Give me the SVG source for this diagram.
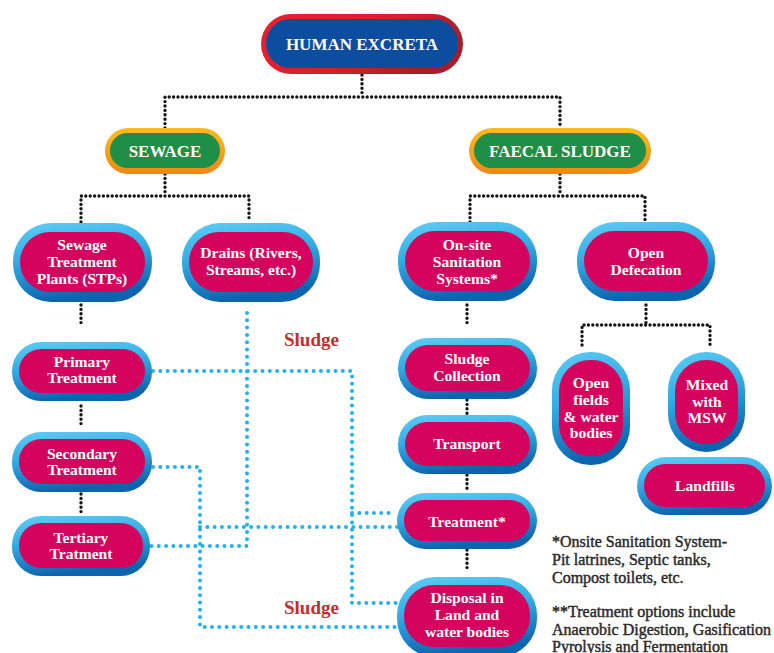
<svg xmlns="http://www.w3.org/2000/svg" width="774" height="653" viewBox="0 0 774 653">
  <defs>
    <linearGradient id="ringBlue" x1="0" y1="0" x2="0.25" y2="1">
      <stop offset="0" stop-color="#5fcdf4"/>
      <stop offset="0.45" stop-color="#35aee6"/>
      <stop offset="1" stop-color="#0c63ae"/>
    </linearGradient>
    <linearGradient id="ringOrange" x1="0" y1="0" x2="0" y2="1">
      <stop offset="0" stop-color="#fbbd1e"/>
      <stop offset="1" stop-color="#ef8716"/>
    </linearGradient>
    <linearGradient id="ringRed" x1="0" y1="0" x2="1" y2="0.4">
      <stop offset="0" stop-color="#e8202f"/>
      <stop offset="0.6" stop-color="#d91f2c"/>
      <stop offset="1" stop-color="#a61d27"/>
    </linearGradient>
    <style>
      .inner { fill: #d4045e; }
      .lbl { font-family: "Liberation Serif", "Times New Roman", serif; font-weight: bold; font-size: 15.6px; fill: #ffffff; text-anchor: middle; }
      .head { font-family: "Liberation Serif", "Times New Roman", serif; font-weight: bold; font-size: 17px; fill: #ffffff; text-anchor: middle; }
      .blk { fill: none; stroke: #151515; stroke-width: 3.4; stroke-linecap: round; stroke-dasharray: 0 4.4; }
      .blu { fill: none; stroke: #1fb3ea; stroke-width: 4; stroke-linecap: round; stroke-dasharray: 0 7.3; }
      .sludge { font-family: "Liberation Serif", "Times New Roman", serif; font-weight: bold; font-size: 19px; fill: #c1302e; }
      .note { font-family: "Liberation Serif", "Times New Roman", serif; font-size: 16px; fill: #2a2a2a; stroke: #2a2a2a; stroke-width: 0.45; }
    </style>
  </defs>

  <rect width="774" height="653" fill="#ffffff"/>

  <!-- connectors -->
  <g id="connectors">
    <path class="blk" d="M362 75 V97 M165 128 V97 H560 V128"/>
    <path class="blk" d="M165 174 V196 M81 222 V196 H249 V222"/>
    <path class="blk" d="M560 174 V196 M470 222 V196 H645 V222"/>
    <path class="blk" d="M81 305 V325"/>
    <path class="blk" d="M81 406 V426"/>
    <path class="blk" d="M81 494 V514"/>
    <path class="blk" d="M467 305 V325"/>
    <path class="blk" d="M646 305 V325 M582 345 V325 H710 V345"/>
    <path class="blk" d="M467 400 V417"/>
    <path class="blk" d="M467 475 V492"/>
    <path class="blk" d="M467 550 V570"/>

    <path class="blu" d="M153 371 H352 V603 H398"/>
    <path class="blu" d="M352 513 H392"/>
    <path class="blu" d="M200 527 H398"/>
    <path class="blu" d="M153 467 H200 V627 H398"/>
    <path class="blu" d="M247 313 V546 H150"/>
  </g>

  <!-- top level -->
  <g id="human-excreta">
    <rect x="261" y="14" width="202" height="60" rx="30" fill="url(#ringRed)"/>
    <rect x="266" y="19" width="192" height="49" rx="24.5" fill="#0d4da0"/>
    <text class="head" x="362" y="50" font-size="18">HUMAN EXCRETA</text>
  </g>

  <g id="sewage">
    <rect x="105" y="128" width="120" height="46" rx="23" fill="url(#ringOrange)"/>
    <rect x="110" y="133" width="110" height="35" rx="17.5" fill="#1f8e46"/>
    <text class="head" x="165" y="157">SEWAGE</text>
  </g>

  <g id="faecal-sludge">
    <rect x="469" y="128" width="182" height="46" rx="23" fill="url(#ringOrange)"/>
    <rect x="474" y="133" width="172" height="35" rx="17.5" fill="#1f8e46"/>
    <text class="head" x="560" y="157">FAECAL SLUDGE</text>
  </g>

  <!-- sewage branch -->
  <g id="stp">
    <rect x="13" y="223" width="139" height="79" rx="38" fill="url(#ringBlue)"/>
    <rect x="20" y="232" width="125" height="60" rx="30" class="inner"/>
    <text class="lbl" x="82" y="250">Sewage</text>
    <text class="lbl" x="82" y="267">Treatment</text>
    <text class="lbl" x="82" y="284">Plants (STPs)</text>
  </g>

  <g id="drains">
    <rect x="182" y="223" width="138" height="79" rx="38" fill="url(#ringBlue)"/>
    <rect x="189" y="232" width="124" height="60" rx="30" class="inner"/>
    <text class="lbl" x="251" y="258">Drains (Rivers,</text>
    <text class="lbl" x="251" y="275">Streams, etc.)</text>
  </g>

  <g id="primary">
    <rect x="12" y="342" width="140" height="59" rx="29" fill="url(#ringBlue)"/>
    <rect x="19" y="349" width="126" height="44" rx="22" class="inner"/>
    <text class="lbl" x="82" y="367">Primary</text>
    <text class="lbl" x="82" y="383">Treatment</text>
  </g>

  <g id="secondary">
    <rect x="12" y="432" width="140" height="60" rx="29" fill="url(#ringBlue)"/>
    <rect x="19" y="439" width="126" height="45" rx="22" class="inner"/>
    <text class="lbl" x="82" y="459">Secondary</text>
    <text class="lbl" x="82" y="475">Treatment</text>
  </g>

  <g id="tertiary">
    <rect x="12" y="516" width="138" height="60" rx="29" fill="url(#ringBlue)"/>
    <rect x="19" y="523" width="124" height="45" rx="22" class="inner"/>
    <text class="lbl" x="81" y="543">Tertiary</text>
    <text class="lbl" x="81" y="559">Tratment</text>
  </g>

  <!-- faecal sludge branch -->
  <g id="onsite">
    <rect x="398" y="222" width="139" height="79" rx="38" fill="url(#ringBlue)"/>
    <rect x="405" y="231" width="125" height="60" rx="30" class="inner"/>
    <text class="lbl" x="467" y="250">On-site</text>
    <text class="lbl" x="467" y="267">Sanitation</text>
    <text class="lbl" x="467" y="284">Systems*</text>
  </g>

  <g id="open-defecation">
    <rect x="577" y="222" width="138" height="79" rx="38" fill="url(#ringBlue)"/>
    <rect x="584" y="231" width="124" height="60" rx="30" class="inner"/>
    <text class="lbl" x="646" y="258">Open</text>
    <text class="lbl" x="646" y="275">Defecation</text>
  </g>

  <g id="sludge-collection">
    <rect x="398" y="338" width="139" height="61" rx="30" fill="url(#ringBlue)"/>
    <rect x="405" y="345" width="125" height="46" rx="23" class="inner"/>
    <text class="lbl" x="467" y="364">Sludge</text>
    <text class="lbl" x="467" y="381">Collection</text>
  </g>

  <g id="transport">
    <rect x="398" y="415" width="139" height="59" rx="29" fill="url(#ringBlue)"/>
    <rect x="405" y="422" width="125" height="44" rx="22" class="inner"/>
    <text class="lbl" x="467" y="449">Transport</text>
  </g>

  <g id="treatment">
    <rect x="397" y="493" width="140" height="56" rx="28" fill="url(#ringBlue)"/>
    <rect x="404" y="500" width="126" height="41" rx="20" class="inner"/>
    <text class="lbl" x="467" y="527">Treatment*</text>
  </g>

  <g id="disposal">
    <rect x="397" y="577" width="140" height="80" rx="38" fill="url(#ringBlue)"/>
    <rect x="404" y="585" width="126" height="62" rx="30" class="inner"/>
    <text class="lbl" x="467" y="603">Disposal in</text>
    <text class="lbl" x="467" y="620">Land and</text>
    <text class="lbl" x="467" y="637">water bodies</text>
  </g>

  <g id="open-fields">
    <rect x="552" y="352" width="78" height="113" rx="38" fill="url(#ringBlue)"/>
    <rect x="559" y="360" width="64" height="96" rx="31" class="inner"/>
    <text class="lbl" x="591" y="388">Open</text>
    <text class="lbl" x="591" y="405">fields</text>
    <text class="lbl" x="591" y="422">&amp; water</text>
    <text class="lbl" x="591" y="438">bodies</text>
  </g>

  <g id="mixed-msw">
    <rect x="668" y="352" width="77" height="100" rx="38" fill="url(#ringBlue)"/>
    <rect x="675" y="360" width="63" height="84" rx="31" class="inner"/>
    <text class="lbl" x="707" y="390">Mixed</text>
    <text class="lbl" x="707" y="407">with</text>
    <text class="lbl" x="707" y="423">MSW</text>
  </g>

  <g id="landfills">
    <rect x="637" y="457" width="135" height="58" rx="29" fill="url(#ringBlue)"/>
    <rect x="644" y="464" width="121" height="43" rx="21" class="inner"/>
    <text class="lbl" x="705" y="491">Landfills</text>
  </g>

  <!-- flow labels -->
  <text class="sludge" x="284" y="346">Sludge</text>
  <text class="sludge" x="284" y="614">Sludge</text>

  <!-- footnotes -->
  <g id="notes">
    <text class="note" x="552" y="547">*Onsite Sanitation System-</text>
    <text class="note" x="552" y="565">Pit latrines, Septic tanks,</text>
    <text class="note" x="552" y="583">Compost toilets, etc.</text>
    <text class="note" x="552" y="617">**Treatment options include</text>
    <text class="note" x="552" y="635">Anaerobic Digestion, Gasification</text>
    <text class="note" x="552" y="652">Pyrolysis and Fermentation</text>
  </g>
</svg>
